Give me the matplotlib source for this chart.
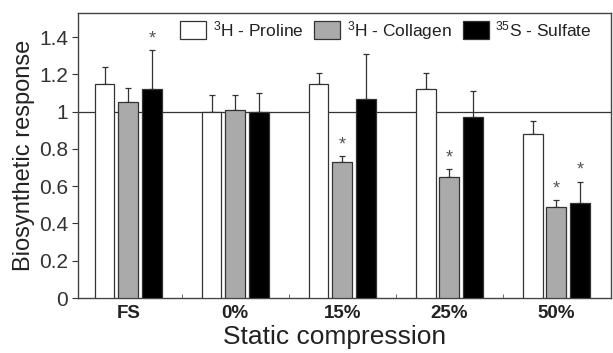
import matplotlib
matplotlib.use("Agg")
import matplotlib.pyplot as plt
import numpy as np

plt.rcParams['font.family'] = ['Liberation Sans', 'DejaVu Sans']
plt.rcParams['mathtext.fontset'] = 'custom'
plt.rcParams['mathtext.rm'] = 'Liberation Sans'

categories = ["FS", "0%", "15%", "25%", "50%"]
series_names = ["$\\mathrm{^{3}}$H - Proline", "$\\mathrm{^{3}}$H - Collagen", "$\\mathrm{^{35}}$S - Sulfate"]
proline = [1.15, 1.00, 1.15, 1.12, 0.88]
proline_err = [0.09, 0.09, 0.06, 0.09, 0.07]
collagen = [1.05, 1.01, 0.73, 0.65, 0.49]
collagen_err = [0.08, 0.08, 0.03, 0.04, 0.035]
sulfate = [1.12, 1.00, 1.07, 0.97, 0.51]
sulfate_err = [0.21, 0.10, 0.24, 0.14, 0.115]
# significance markers (series index per category)
stars = [[False, False, True], [False, False, False], [False, True, False],
         [False, True, False], [False, True, True]]

fig = plt.figure(figsize=(6.13, 3.53), dpi=100)
ax = fig.add_axes([0.1272, 0.1558, 0.8695, 0.8074])

x = np.arange(len(categories))
w = 0.185
off = 0.222
colors = ["white", "#aaaaaa", "black"]
data = [(proline, proline_err), (collagen, collagen_err), (sulfate, sulfate_err)]
edge = "#333333"
for i, ((vals, errs), c, name) in enumerate(zip(data, colors, series_names)):
    xs = x + (i - 1) * off
    ax.bar(xs, vals, w, color=c, edgecolor=edge, linewidth=0.9, label=name, zorder=3)
    ax.errorbar(xs, vals, yerr=[np.zeros(len(vals)), errs], fmt="none",
                ecolor=edge, elinewidth=0.9, capsize=2.5, capthick=0.9, zorder=2)
    for j in range(len(categories)):
        if stars[j][i]:
            ax.text(xs[j], vals[j] + errs[j] + 0.015, "*", ha="center", va="bottom",
                    fontsize=13, color="#555555", zorder=4)

ax.axhline(1.0, color="#333333", linewidth=0.9, zorder=1)

ax.set_xlim(-0.47, 4.51)
ax.set_ylim(0, 1.53)
ax.set_yticks([0, 0.2, 0.4, 0.6, 0.8, 1.0, 1.2, 1.4])
ax.set_yticklabels(["0", "0.2", "0.4", "0.6", "0.8", "1", "1.2", "1.4"])
ax.set_xticks(x)
ax.set_xticklabels(categories, fontweight="bold", fontsize=13.5, color="#222222")
ax.set_xticks(x[:-1] + 0.5, minor=True)
ax.tick_params(axis="x", which="major", length=0, pad=5)
ax.tick_params(axis="x", which="minor", direction="in", length=3, color="#555555")
ax.tick_params(axis="y", direction="out", length=4, labelsize=15, labelcolor="#333333",
               color="#333333", pad=3)
for s in ax.spines.values():
    s.set_color("#444444")
    s.set_linewidth(1.0)

ax.set_ylabel("Biosynthetic response", fontsize=17, color="#222222", labelpad=3)
ax.set_xlabel("Static compression", fontsize=19, color="#222222")
ax.xaxis.set_label_coords(0.482, -0.095)

leg = ax.legend(loc="upper center", bbox_to_anchor=(0.578, 1.035), ncol=3, frameon=False,
                fontsize=12.5, handlelength=1.5, handleheight=1.25, columnspacing=0.6,
                handletextpad=0.4)
for t in leg.get_texts():
    t.set_color("#222222")

fig.savefig("out.png", dpi=100)
